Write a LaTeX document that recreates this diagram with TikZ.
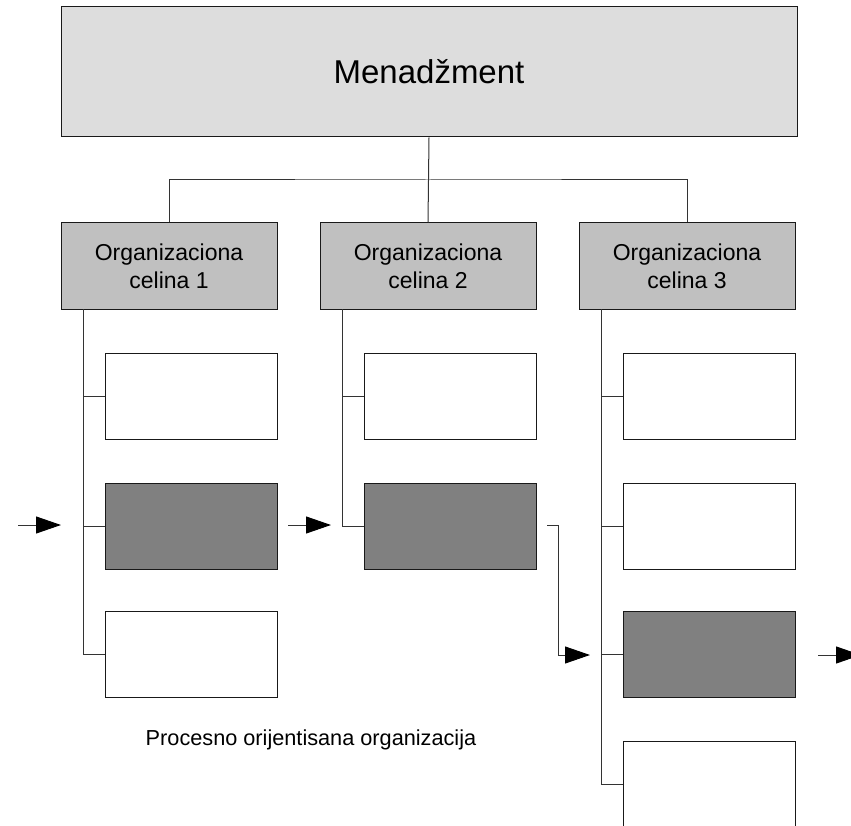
\documentclass[tikz,border=0pt]{standalone}
\usepackage{fontspec}
\setmainfont{Liberation Sans}
\usetikzlibrary{arrows.meta,calc}
\definecolor{topfill}{HTML}{DDDDDD}
\definecolor{orgfill}{HTML}{C0C0C0}
\definecolor{darkfill}{HTML}{808080}
\begin{document}
\begin{tikzpicture}[x=1pt,y=-1pt,
  box/.style={draw=black!90,line width=1pt,rectangle,inner sep=0pt},
  topbox/.style={box,fill=topfill,minimum width=736pt,minimum height=130pt,font=\fontsize{33}{38}\selectfont},
  orgbox/.style={box,fill=orgfill,minimum width=216pt,minimum height=86pt,align=center,font=\fontsize{23}{28}\selectfont},
  subbox/.style={box,fill=white,minimum width=172pt,minimum height=86pt},
  darkbox/.style={subbox,fill=darkfill},
  conn/.style={draw=black!80,line width=1pt},
  arr/.style={conn,-{Triangle[length=25pt,width=17pt,color=black]}}
]
\clip (0,0) rectangle (851,826);
\fill[white] (0,0) rectangle (851,826);

\node[topbox] (top) at (429,72) {Menadžment};

\node[orgbox] (o1) at (169,266) {Organizaciona\\celina 1};
\node[orgbox] (o2) at (428,266) {Organizaciona\\celina 2};
\node[orgbox] (o3) at (687,266) {Organizaciona\\celina 3};

\node[subbox]  (s11) at (191,396) {};
\node[darkbox] (s12) at (191,526) {};
\node[subbox]  (s13) at (191,654.5) {};

\node[subbox]  (s21) at (450,396) {};
\node[darkbox] (s22) at (450,526) {};

\node[subbox]  (s31) at (709.5,396) {};
\node[subbox]  (s32) at (709.5,526) {};
\node[darkbox] (s33) at (709.5,654.5) {};
\node[subbox]  (s34) at (709.5,784) {};

\node[font=\fontsize{21.7}{26}\selectfont] (cap) at (311,740) {Procesno orijentisana organizacija};

% top connectors
\coordinate (j) at (428,180);
\draw[conn] (top.south) -- (o2.north);
\draw[conn] (o1.north) |- (j) -| (o3.north);

% vertical spines
\coordinate (v1) at (83,309);
\coordinate (v2) at (342,309);
\coordinate (v3) at (601,309);
\draw[conn] (v1) |- (s13.west);
\draw[conn] (s11.west) -- (s11.west -| v1);
\draw[conn] (s12.west) -- (s12.west -| v1);
\draw[conn] (v2) |- (s22.west);
\draw[conn] (s21.west) -- (s21.west -| v2);
\draw[conn] (v3) |- (s34.west);
\draw[conn] (s31.west) -- (s31.west -| v3);
\draw[conn] (s32.west) -- (s32.west -| v3);
\draw[conn] (s33.west) -- (s33.west -| v3);

% process arrows
\coordinate (a0s) at (18,525);
\coordinate (a0e) at (61,525);
\draw[arr] (a0s) -- (a0e);
\coordinate (a1s) at (288,525);
\coordinate (a1e) at (331,525);
\draw[arr] (a1s) -- (a1e);
\coordinate (a2s) at (547,525);
\coordinate (a2m) at (558,655);
\coordinate (a2e) at (590,655);
\draw[arr] (a2s) -| (a2m) -- (a2e);
\coordinate (a3s) at (818,655);
\coordinate (a3e) at (861,655);
\draw[arr] (a3s) -- (a3e);
\end{tikzpicture}
\end{document}
